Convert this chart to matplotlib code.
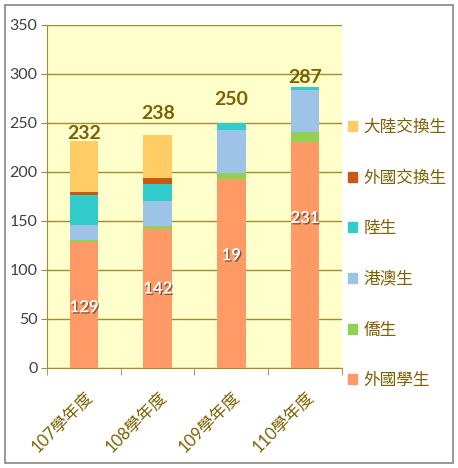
import numpy as np
import matplotlib
matplotlib.use("Agg")
import matplotlib.pyplot as plt
import matplotlib.patheffects as pe
from matplotlib.patches import Rectangle

plt.rcParams['font.family'] = ['Lato', 'Noto Sans CJK TC', 'DejaVu Sans']

years = ['107學年度', '108學年度', '109學年度', '110學年度']
# series, bottom to top
series_names = ['外國學生', '僑生', '港澳生', '陸生', '外國交換生', '大陸交換生']
foreign = [129, 142, 193, 231]
overseas = [2, 3, 6, 10]
hkmacau = [15, 25, 44, 43]
mainland = [31, 18, 7, 3]
foreign_exch = [3, 6, 0, 0]
mainland_exch = [52, 44, 0, 0]
totals = [232, 238, 250, 287]
inner_labels = ['129', '142', '19', '231']
# where the labels sit (value units), as placed in the original
inner_label_y = [62, 81, 115, 153]
total_label_y = [231, 251, 265, 288]

colors = ['#FF9966', '#92D050', '#9DC3E6', '#33CCCC', '#C55A11', '#FFCC66']
gold = '#A68B2C'
brown = '#7F6000'

data = [foreign, overseas, hkmacau, mainland, foreign_exch, mainland_exch]

fig = plt.figure(figsize=(4.58, 4.68), dpi=100)
ax = fig.add_axes([0.1033, 0.2137, 0.6427, 0.7329])
ax.set_facecolor('#FFFFCC')

x = np.arange(len(years))
bottom = np.zeros(len(years))
for vals, name, c in zip(data, series_names, colors):
    ax.bar(x, vals, width=0.39, bottom=bottom, color=c, label=name, zorder=3)
    bottom += np.array(vals)

ax.set_xlim(-0.5, len(years) - 0.5)
ax.set_ylim(0, 350)
ax.set_yticks(np.arange(0, 351, 50))
ax.yaxis.grid(True, color=gold, linewidth=1.0, zorder=1)
ax.set_axisbelow(True)

for s in ['top', 'right']:
    ax.spines[s].set_visible(False)
ax.spines['left'].set_color(gold)
ax.spines['bottom'].set_color(gold)

ax.tick_params(axis='y', colors=gold, length=4, labelcolor='#404040', labelsize=11.5, pad=3)
ax.set_xticks(x)
ax.set_xticklabels(years, rotation=45, ha='right', rotation_mode='anchor',
                   color=brown, fontsize=12)
ax.tick_params(axis='x', which='major', length=0, pad=14)
ax.set_xticks(np.arange(-0.5, len(years), 1.0), minor=True)
ax.tick_params(axis='x', which='minor', length=5, color=gold)

for i in range(len(years)):
    ax.text(x[i], total_label_y[i], str(totals[i]), ha='center', va='bottom',
            fontsize=14, fontweight='bold', color=brown, zorder=5)
    ax.text(x[i], inner_label_y[i], inner_labels[i], ha='center', va='center',
            fontsize=12, fontweight='bold', color='white', zorder=5,
            path_effects=[pe.withSimplePatchShadow(offset=(1, -1), shadow_rgbFace='#000000', alpha=0.45)])

handles = [Rectangle((0, 0), 1, 1, color=c) for c in colors][::-1]
fig.legend(handles, series_names[::-1], loc='center left', bbox_to_anchor=(0.745, 0.458),
           frameon=False, fontsize=12, labelcolor=brown, handlelength=0.55, handleheight=0.55,
           handletextpad=0.4, labelspacing=2.08, borderaxespad=0)

fig.patches.append(Rectangle((0.011, 0.011), 0.978, 0.978, transform=fig.transFigure,
                             fill=False, edgecolor='#888888', linewidth=1.2))

fig.savefig('out.png', dpi=100)
